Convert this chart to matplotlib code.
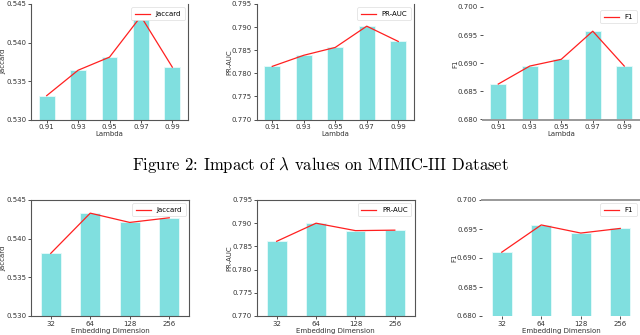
import matplotlib
matplotlib.use("Agg")
import matplotlib.pyplot as plt
import numpy as np

# *** Datos ***
lambdas = ["0.91", "0.93", "0.95", "0.97", "0.99"]
lam_jaccard = [0.5331, 0.5364, 0.5381, 0.5434, 0.5368]
lam_prauc = [0.7815, 0.7839, 0.7856, 0.7902, 0.7869]
lam_f1 = [0.6863, 0.6895, 0.6907, 0.6957, 0.6895]

dims = ["32", "64", "128", "256"]
dim_jaccard = [0.5381, 0.5433, 0.5421, 0.5427]
dim_prauc = [0.7861, 0.7900, 0.7884, 0.7885]
dim_f1 = [0.6910, 0.6957, 0.6943, 0.6951]

caption = r"Figure 2: Impact of $\lambda$ values on MIMIC-III Dataset"

C_BAR = "#80DFDF"
C_LINE = "#FF2020"
C_SPINE = "#555555"
FS = 5

W, H = 640, 335
fig = plt.figure(figsize=(W / 100, H / 100), dpi=100)


def px_axes(x0, x1, y_top, y_bot):
    ax = fig.add_axes([x0 / W, (H - y_bot) / H, (x1 - x0) / W, (y_bot - y_top) / H])
    ax._wpx = x1 - x0
    ax._hpx = y_bot - y_top
    return ax


def panel(ax, cats, vals, ylabel, xlabel, ylim, metric, style):
    x = np.arange(len(cats))
    ax.bar(x, vals, 0.5, color=C_BAR, edgecolor="#E8FAFA", linewidth=0.6, zorder=2)
    ax.plot(x, vals, color=C_LINE, linewidth=0.9, label=metric, zorder=3)
    ax.set_xlim(-0.5, len(cats) - 0.5)
    ax.set_ylim(*ylim)
    ax.set_yticks(np.arange(ylim[0], ylim[1] + 1e-9, 0.005))
    ax.yaxis.set_major_formatter(matplotlib.ticker.FormatStrFormatter("%.3f"))
    ax.set_xticks(x)
    ax.set_xticklabels(cats)
    ax.tick_params(labelsize=FS, length=2, width=0.6, pad=1.5, colors="#333333")
    ax.set_xlabel(xlabel, fontsize=FS, color="#333333")
    ax.set_ylabel(ylabel, fontsize=FS, color="#333333")
    ax.yaxis.set_label_coords(-24.5 / ax._wpx, 0.5)
    ax.xaxis.set_label_coords(0.5, -11.5 / ax._hpx)
    for s in ax.spines.values():
        s.set_color(C_SPINE)
        s.set_linewidth(0.8)
    if style == "top":
        ax.spines["top"].set_visible(False)
    elif style == "seaborn_top":
        ax.spines["left"].set_visible(False)
        ax.spines["right"].set_visible(False)
        ax.spines["top"].set_visible(False)
        ax.spines["bottom"].set_color("#999999")
        ax.spines["bottom"].set_linewidth(1.4)
    elif style == "seaborn_bot":
        ax.spines["left"].set_visible(False)
        ax.spines["right"].set_visible(False)
        ax.spines["bottom"].set_visible(False)
        ax.spines["top"].set_color("#999999")
        ax.spines["top"].set_linewidth(1.4)
    leg = ax.legend(loc="upper right", fontsize=FS, handlelength=2.2,
                    borderpad=0.5, framealpha=1, fancybox=True,
                    borderaxespad=0.5)
    leg.get_frame().set_linewidth(0.5)
    leg.get_frame().set_edgecolor("#DDDDDD")


# fila superior: lambda
ax1 = px_axes(31, 188, 4, 119.5)
panel(ax1, lambdas, lam_jaccard, "Jaccard", "Lambda", (0.530, 0.545), "Jaccard", "top")
ax2 = px_axes(256.5, 414, 4, 119.5)
panel(ax2, lambdas, lam_prauc, "PR-AUC", "Lambda", (0.770, 0.795), "PR-AUC", "top")
ax3 = px_axes(482.5, 640, 7, 119.5)
panel(ax3, lambdas, lam_f1, "F1", "Lambda", (0.680, 0.700), "F1", "seaborn_top")

# fila inferior: dimension de embedding
ax4 = px_axes(31, 189, 200, 316)
panel(ax4, dims, dim_jaccard, "Jaccard", "Embedding Dimension", (0.530, 0.545), "Jaccard", "box")
ax5 = px_axes(257, 414.5, 200, 316)
panel(ax5, dims, dim_prauc, "PR-AUC", "Embedding Dimension", (0.770, 0.795), "PR-AUC", "box")
ax6 = px_axes(482, 640, 200, 316)
panel(ax6, dims, dim_f1, "F1", "Embedding Dimension", (0.680, 0.700), "F1", "seaborn_bot")

plt.rcParams["mathtext.fontset"] = "cm"
fig.text(0.5, (H - 165) / H, caption, ha="center", va="center",
         fontsize=12, family="cmr10")

fig.savefig("out.png", dpi=100)
